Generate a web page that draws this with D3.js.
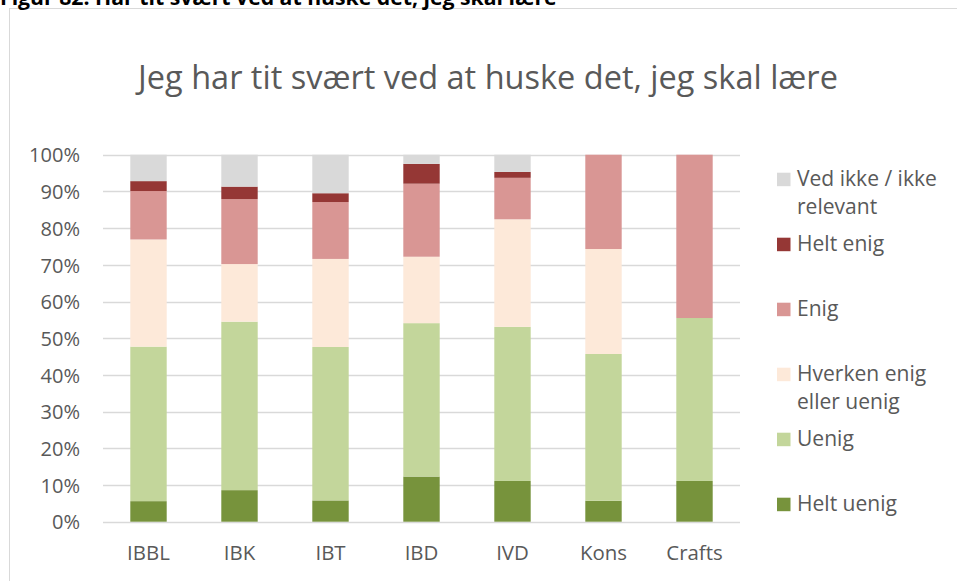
<!DOCTYPE html>
<html>
<head>
<meta charset="utf-8">
<script src="https://cdn.jsdelivr.net/npm/d3@7"></script>
<style>
  html, body { margin: 0; background: #fff; overflow: hidden; }
  svg { display: block; }
</style>
</head>
<body>
<div id="chart"></div>
<script>

// data (percent)
var categories = ["IBBL", "IBK", "IBT", "IBD", "IVD", "Kons", "Crafts"];
var heltUenig = [5.6, 8.6, 5.8, 12.3, 11.1, 5.7, 11.1];
var uenig     = [42.1, 45.9, 41.8, 41.8, 42.0, 40.0, 44.4];
var hverken   = [29.2, 15.7, 24.0, 18.1, 29.3, 28.6, 0];
var enig      = [13.2, 17.7, 15.5, 19.9, 11.3, 25.7, 44.5];
var heltEnig  = [2.7, 3.4, 2.4, 5.4, 1.6, 0, 0];
var vedIkke   = [7.2, 8.7, 10.5, 2.5, 4.7, 0, 0];

var seriesNames = ["Helt uenig", "Uenig", "Hverken enig eller uenig", "Enig", "Helt enig", "Ved ikke / ikke relevant"];
var seriesValues = [heltUenig, uenig, hverken, enig, heltEnig, vedIkke];
var seriesColors = ["#77933c", "#c3d69b", "#fde9d9", "#d99694", "#953735", "#d9d9d9"];
// legend lines (top to bottom), as wrapped in the picture
var legendLines = [
  ["Ved ikke / ikke", "relevant"],
  ["Helt enig"],
  ["Enig"],
  ["Hverken enig", "eller uenig"],
  ["Uenig"],
  ["Helt uenig"]
];

var tickValues = d3.range(0, 1.01, 0.1);

var W = 957, H = 581;
var font = "'Open Sans', 'Noto Sans', sans-serif";
var textColor = "#595959";

var svg = d3.select("#chart").append("svg")
  .attr("width", W)
  .attr("height", H)
  .style("overflow", "hidden");

// scale font so a text fits a wanted width
function fitText(sel, width) {
  var fs = parseFloat(sel.attr("font-size"));
  var len = sel.node().getComputedTextLength();
  sel.attr("font-size", fs * width / len);
  return fs * width / len;
}

// chart frame (runs off the right and bottom edges)
svg.append("rect")
  .attr("x", 9.5)
  .attr("y", 8.5)
  .attr("width", 1000)
  .attr("height", 1000)
  .attr("fill", "#fff")
  .attr("stroke", "#d9d9d9")
  .attr("stroke-width", 1);

// figure caption, cut off at the top as in the source page
var caption = svg.append("text")
  .attr("x", 0)
  .attr("y", 4.5)
  .attr("font-family", font)
  .attr("font-weight", "bold")
  .attr("font-size", 15)
  .attr("fill", "#000")
  .text("Figur 82. Har tit svært ved at huske det, jeg skal lære");
fitText(caption, 557);

// title
var title = svg.append("text")
  .attr("x", 488)
  .attr("y", 88.5)
  .attr("text-anchor", "middle")
  .attr("font-family", font)
  .attr("font-size", 28)
  .attr("fill", textColor)
  .text("Jeg har tit svært ved at huske det, jeg skal lære");
fitText(title, 700);

// scales
var x = d3.scaleBand()
  .domain(categories)
  .range([103, 740])
  .paddingInner(0.6)
  .paddingOuter(0.3);

var y = d3.scaleLinear()
  .domain([0, 1])
  .range([521.7, 154.7]);

// gridlines
svg.append("g")
  .selectAll("line")
  .data(tickValues).enter()
  .append("line")
  .attr("x1", 103)
  .attr("x2", 740)
  .attr("y1", function (d) { return Math.round(y(d)) + 0.5; })
  .attr("y2", function (d) { return Math.round(y(d)) + 0.5; })
  .attr("stroke", "#d9d9d9")
  .attr("stroke-width", 1.3);

// stacked bars
var rows = categories.map(function (c, i) {
  var r = { cat: c };
  seriesNames.forEach(function (s, j) { r[s] = seriesValues[j][i] / 100; });
  return r;
});
var stacked = d3.stack().keys(seriesNames)(rows);

var layers = svg.append("g")
  .selectAll("g")
  .data(stacked).enter()
  .append("g")
  .attr("fill", function (d, i) { return seriesColors[i]; });

layers.selectAll("rect")
  .data(function (d) { return d; }).enter()
  .append("rect")
  .attr("x", function (d) { return x(d.data.cat); })
  .attr("width", x.bandwidth())
  .attr("y", function (d) { return y(d[1]); })
  .attr("height", function (d) { return Math.max(0, y(d[0]) - y(d[1])); });

// y axis labels
var yAxis = svg.append("g")
  .attr("transform", "translate(80,0)")
  .call(d3.axisLeft(y).tickValues(tickValues).tickSize(0).tickPadding(0)
    .tickFormat(d3.format(".0%")));
yAxis.select(".domain").remove();
yAxis.selectAll("text")
  .attr("font-family", font)
  .attr("font-size", 19)
  .attr("fill", textColor)
  .attr("dy", "0.36em");
var ySize = fitText(yAxis.selectAll("text").filter(function (d) { return d === 1; }), 51);
yAxis.selectAll("text").attr("font-size", ySize);

// x axis labels
var xAxis = svg.append("g")
  .attr("transform", "translate(0,545)")
  .call(d3.axisBottom(x).tickSize(0).tickPadding(0));
xAxis.select(".domain").remove();
xAxis.selectAll("text")
  .attr("font-family", font)
  .attr("font-size", 19)
  .attr("fill", textColor)
  .attr("dy", "0.71em");
var xSize = fitText(xAxis.selectAll("text").filter(function (d) { return d === "Crafts"; }), 56.5);
xAxis.selectAll("text").attr("font-size", xSize);

// legend
var legend = svg.append("g");
var items = legend.selectAll("g")
  .data(legendLines).enter()
  .append("g")
  .attr("transform", function (d, i) { return "translate(777," + (172.7 + i * 65) + ")"; });

items.append("rect")
  .attr("width", 13.5)
  .attr("height", 13.5)
  .attr("fill", function (d, i) { return seriesColors[seriesColors.length - 1 - i]; });

var legendTexts = items.append("text")
  .attr("x", 20)
  .attr("y", 13.5)
  .attr("font-family", font)
  .attr("font-size", 19)
  .attr("fill", textColor);

legendTexts.selectAll("tspan")
  .data(function (d) { return d; }).enter()
  .append("tspan")
  .attr("x", 20)
  .attr("dy", function (d, i) { return i === 0 ? 0 : 28.3; })
  .text(function (d) { return d; });

var firstLine = legendTexts.filter(function (d, i) { return i === 0; }).select("tspan");
var fs = parseFloat(legendTexts.attr("font-size"));
var lsz = fs * 140 / firstLine.node().getComputedTextLength();
legendTexts.attr("font-size", lsz);

</script>
</body>
</html>
